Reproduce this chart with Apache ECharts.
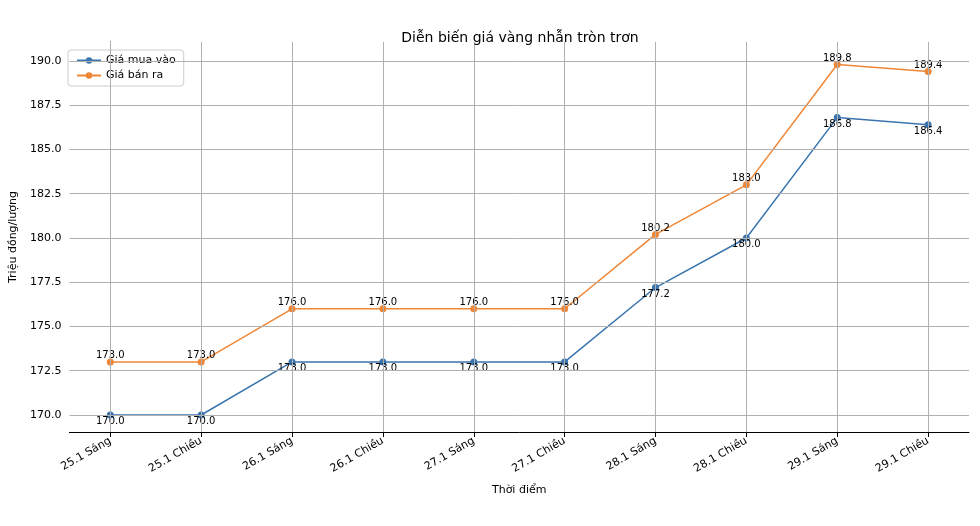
<!DOCTYPE html>
<html><head><meta charset="utf-8">
<script src="https://cdn.jsdelivr.net/npm/echarts@6/dist/echarts.min.js"></script>
<style>html,body{margin:0;padding:0;background:#fff}#c{width:980px;height:526px}</style>
</head><body><div id="c"></div>
<script>
const categories = ['25.1 Sáng','25.1 Chiều','26.1 Sáng','26.1 Chiều','27.1 Sáng','27.1 Chiều','28.1 Sáng','28.1 Chiều','29.1 Sáng','29.1 Chiều'];
const buyValues = [170.0,170.0,173.0,173.0,173.0,173.0,177.2,180.0,186.8,186.4];
const sellValues = [173.0,173.0,176.0,176.0,176.0,176.0,180.2,183.0,189.8,189.4];
const yTicks = [170.0,172.5,175.0,177.5,180.0,182.5,185.0,187.5,190.0];
const xIdx = categories.map((c,i)=>i);
const chart = echarts.init(document.getElementById('c'));
const font = 'DejaVu Sans';
const grid = {silent:true,symbol:'none',label:{show:false},lineStyle:{color:'#b0b0b0',type:'solid',width:1},
  data:[...yTicks.map(v=>({yAxis:v})),...xIdx.map(i=>({xAxis:i}))]};
chart.setOption({
  animation:false,
  textStyle:{fontFamily:font},
  title:{text:'Diễn biến giá vàng nhẫn tròn trơn',left:515,top:26,textAlign:'center',textStyle:{fontSize:14,fontWeight:'normal',color:'#000'}},
  legend:{left:68,top:50,orient:'vertical',itemGap:4,itemWidth:24,itemHeight:8,borderColor:'#ccc',borderWidth:1,borderRadius:3,padding:[5,8],textStyle:{fontSize:11,color:'#000'},
    data:['Giá mua vào','Giá bán ra']},
  grid:{left:61,right:11,top:42,bottom:94},
  xAxis:{type:'value',min:-0.45,max:9.45,name:'Thời điểm',nameLocation:'middle',nameGap:53,nameTextStyle:{fontSize:11,color:'#000'},
    axisLine:{lineStyle:{color:'#000'}},axisTick:{show:true,customValues:xIdx,lineStyle:{color:'#000'}},
    axisLabel:{rotate:30,fontSize:11,color:'#000',customValues:xIdx,formatter:v=>categories[Math.round(v)]},
    splitLine:{show:false}},
  yAxis:{type:'value',min:169.04,max:191.07,name:'Triệu đồng/lượng',nameLocation:'middle',nameGap:45,nameTextStyle:{fontSize:11,color:'#000'},
    axisLine:{show:true,lineStyle:{color:'#000'}},axisTick:{show:true,customValues:yTicks,lineStyle:{color:'#000'}},
    axisLabel:{fontSize:11,color:'#000',customValues:yTicks,formatter:v=>v.toFixed(1)},
    splitLine:{show:false}},
  series:[
    {name:'Giá mua vào',type:'line',data:buyValues.map((v,i)=>[i,v]),color:'#3a75af',symbol:'circle',symbolSize:7,lineStyle:{width:1.5},z:3,
      markLine:grid,
      label:{show:true,position:'bottom',distance:-2,fontSize:10,color:'#000',formatter:p=>p.value[1].toFixed(1)}},
    {name:'Giá bán ra',type:'line',data:sellValues.map((v,i)=>[i,v]),color:'#ef8636',symbol:'circle',symbolSize:7,lineStyle:{width:1.5},z:3,
      label:{show:true,position:'top',distance:-2,fontSize:10,color:'#000',formatter:p=>p.value[1].toFixed(1)}}
  ]
});
</script></body></html>
